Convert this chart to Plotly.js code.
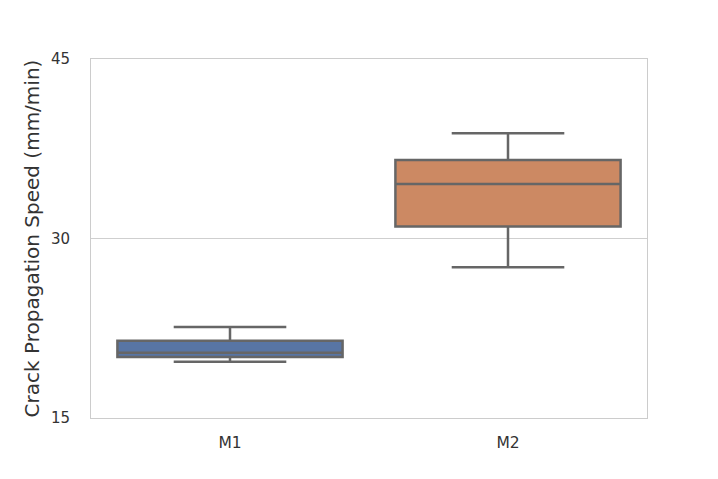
<!DOCTYPE html>
<html>
<head>
<meta charset="utf-8">
<script src="https://cdn.plot.ly/plotly-3.0.1.min.js"></script>
<style>
  html, body { margin: 0; padding: 0; background: #fff; }
  #chart { width: 718px; height: 479px; }
</style>
</head>
<body>
<div id="chart"></div>
<script>
// box statistics
const groups = ['M1', 'M2'];
const lowerWhisker = [19.7, 27.6];
const q1 = [20.1, 31.0];
const median = [20.45, 34.55];
const q3 = [21.45, 36.55];
const upperWhisker = [22.6, 38.8];
const fillColors = ['#5875a4', '#cc8963'];

const lineColor = '#666666';

const traces = groups.map((g, i) => ({
  type: 'box',
  name: g,
  x: [g],
  q1: [q1[i]],
  median: [median[i]],
  q3: [q3[i]],
  lowerfence: [lowerWhisker[i]],
  upperfence: [upperWhisker[i]],
  width: 0.81,
  fillcolor: fillColors[i],
  line: { color: lineColor, width: 2.5 },
  whiskerwidth: 0.5,
  hoverinfo: 'skip',
  showlegend: false
}));

const layout = {
  width: 718,
  height: 479,
  margin: { l: 91, r: 71, t: 59, b: 61 },
  paper_bgcolor: '#ffffff',
  plot_bgcolor: '#ffffff',
  font: { family: 'DejaVu Sans', size: 15, color: '#333333' },
  boxmode: 'overlay',
  xaxis: {
    type: 'category',
    categoryorder: 'array',
    categoryarray: groups,
    range: [-0.5, 1.5],
    showgrid: false,
    zeroline: false,
    showline: true,
    mirror: true,
    linecolor: '#cccccc',
    linewidth: 1,
    ticks: 'outside',
    ticklen: 10,
    tickcolor: 'rgba(0,0,0,0)',
    tickfont: { size: 15.5, color: '#333333' }
  },
  yaxis: {
    range: [15, 45],
    tickvals: [15, 30, 45],
    ticktext: ['15', '30', '45'],
    showgrid: true,
    gridcolor: '#cfcfcf',
    gridwidth: 1,
    zeroline: false,
    showline: true,
    mirror: true,
    linecolor: '#cccccc',
    linewidth: 1,
    ticks: 'outside',
    ticklen: 17,
    tickcolor: 'rgba(0,0,0,0)',
    tickfont: { size: 15, color: '#333333' },
    title: {
      text: 'Crack Propagation Speed (mm/min)',
      font: { size: 20, color: '#333333' },
      standoff: 5
    }
  }
};

Plotly.newPlot('chart', traces, layout, { displayModeBar: false, staticPlot: true });
</script>
</body>
</html>
